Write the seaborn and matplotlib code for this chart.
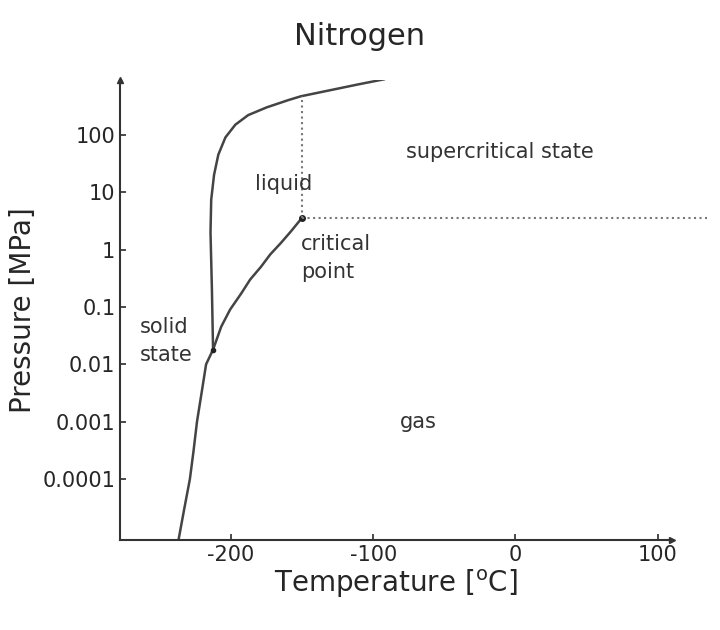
import matplotlib
matplotlib.use("Agg")
import matplotlib.pyplot as plt
import seaborn as sns
import pandas as pd

sub_T = [-237, -233, -229, -226.5, -224, -220.5, -217.6, -212.7]
sub_P = [8.7e-6, 3e-5, 1e-4, 3e-4, 1e-3, 3.5e-3, 1e-2, 0.018]
vap_T = [-212.7, -207, -200.7, -193, -186.6, -179, -172.5, -165, -158, -150]
vap_P = [0.018, 0.045, 0.09, 0.17, 0.3, 0.5, 0.82, 1.3, 2.06, 3.6]
mel_T = [-212.7, -213.5, -214.5, -214, -212, -209, -204, -197, -188, -175, -160, -151, -130, -110, -92]
mel_P = [0.018, 0.2, 2.0, 7.4, 20, 45, 90, 150, 220, 300, 400, 468, 600, 760, 930]
crit_T, crit_P = -150, 3.6

sns.set_theme(style="white")
plt.rcParams['font.family'] = ['DejaVu Sans']
fig = plt.figure(figsize=(7.2, 6.3), dpi=100)
ax = fig.add_axes([0.167, 0.143, 0.766, 0.73])

for T, P in [(sub_T, sub_P), (vap_T, vap_P), (mel_T, mel_P)]:
    sns.lineplot(data=pd.DataFrame({"T": T, "P": P}), x="T", y="P", sort=False,
                 color="#444444", lw=1.8, ax=ax, estimator=None)
ax.plot([crit_T], [crit_P], 'o', color="#222222", ms=4)
ax.plot([-212.7], [0.018], 'o', color="#222222", ms=3)
ax.plot([crit_T, crit_T], [crit_P, 468], ls=":", color="#777777", lw=1.5)
ax.plot([crit_T, 135], [crit_P, crit_P], ls=":", color="#777777", lw=1.5, clip_on=False)

ax.set_yscale("log")
ax.set_xlim(-278, 110)
ax.set_ylim(8.7e-6, 900)
ax.set_xticks([-200, -100, 0, 100])
ax.set_xticklabels(["-200", "-100", "0", "100"], fontsize=15)
yt = [1e-4, 1e-3, 1e-2, 0.1, 1, 10, 100]
ax.set_yticks(yt)
ax.set_yticklabels(["0.0001", "0.001", "0.01", "0.1", "1", "10", "100"], fontsize=15)
ax.minorticks_off()
ax.tick_params(axis='both', direction='in', length=4, color="#333333", left=True, bottom=True)
for s in ["top", "right"]:
    ax.spines[s].set_visible(False)
for s in ["left", "bottom"]:
    ax.spines[s].set_color("#333333")
    ax.spines[s].set_linewidth(1.5)
ax.plot(1, 0, ">", transform=ax.transAxes, color="#333333", ms=4, clip_on=False)
ax.plot(0, 1, "^", transform=ax.transAxes, color="#333333", ms=4, clip_on=False)

ax.set_xlabel("Temperature [$^{\\mathrm{o}}$C]", fontsize=20, labelpad=2)
ax.set_ylabel("Pressure [MPa]", fontsize=20, labelpad=4)
fig.suptitle("Nitrogen", fontsize=22, y=0.965)

kw = dict(fontsize=15, color="#333333")
ax.text(-183, 13.6, "liquid", ha="left", va="center", **kw)
ax.text(-77, 51, "supercritical state", ha="left", va="center", **kw)
ax.text(-151, 0.7, "critical\npoint", ha="left", va="center", linespacing=1.5, **kw)
ax.text(-264, 0.025, "solid\nstate", ha="left", va="center", linespacing=1.5, **kw)
ax.text(-68, 0.001, "gas", ha="center", va="center", **kw)

fig.savefig("out.png", dpi=100, facecolor="white")
